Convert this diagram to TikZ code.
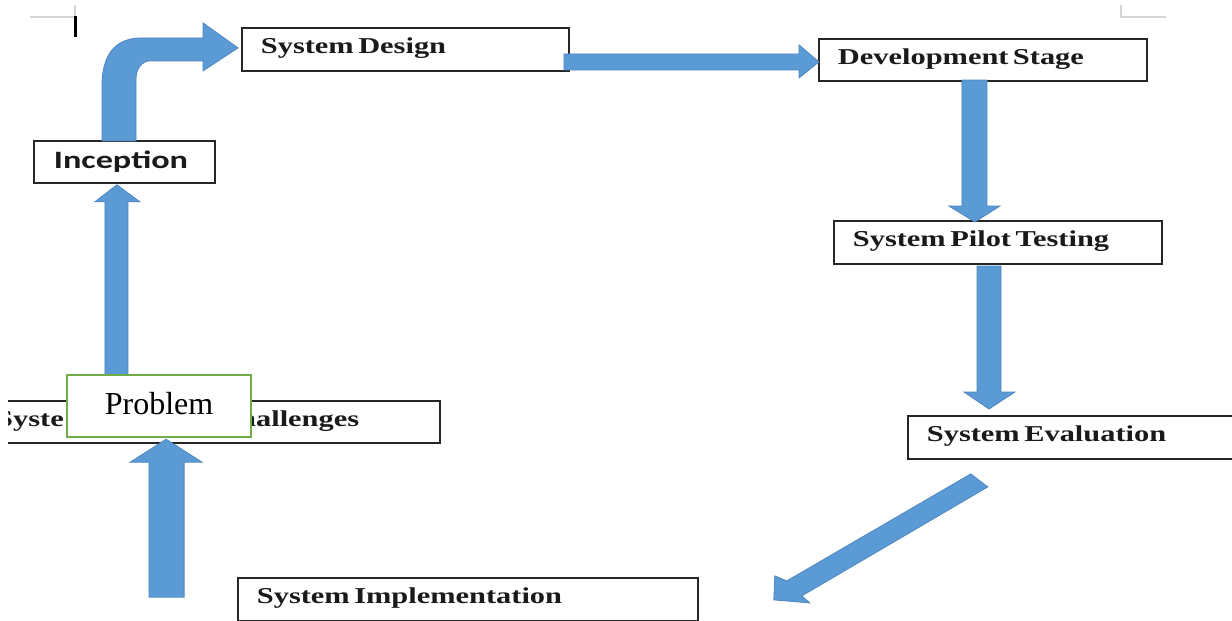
\documentclass[tikz,border=0pt]{standalone}
\usepackage{fontspec}
\usepackage{graphicx}
\setmainfont{Liberation Serif}
\newfontfamily\carlfont{Carlito}
\usetikzlibrary{calc}
\definecolor{arrowblue}{HTML}{5B9BD5}
\definecolor{arrowedge}{HTML}{4F86C0}
\definecolor{boxline}{HTML}{262626}
\definecolor{txt}{HTML}{1A1A1A}
\definecolor{probgreen}{HTML}{70AD47}
\definecolor{marks}{HTML}{D6D6D6}
\newcommand{\stagetxt}[1]{\scalebox{1.34}[1]{\fontsize{22.7}{24}\selectfont\bfseries #1}}
\newcommand{\incepttxt}[1]{\scalebox{1.37}[1]{\fontsize{25}{27}\selectfont\carlfont\bfseries #1}}
\tikzset{
  stage/.style={draw=boxline, line width=1.8pt, fill=white, rectangle, anchor=north west,
    inner xsep=19pt, inner ysep=0pt, minimum height=43pt, align=left,
    text height=16pt, text depth=7pt, text=txt},
  blk/.style={fill=arrowblue, draw=arrowedge, line width=0.8pt, line join=miter},
  markline/.style={draw=marks, line width=1.3pt},
}
\begin{document}
\begin{tikzpicture}[x=1pt, y=-1pt]
\clip (0,0) rectangle (1232,621);
\fill[white] (0,0) rectangle (1232,621);

% page corner marks and cursor
\draw[markline] (30,17) -- (75,17) -- (75,5);
\fill[black] (73.5,16) rectangle (77,37);
\draw[markline] (1121,5) -- (1121,17) -- (1166,17);

% stage boxes
\node[stage, minimum width=327pt, text width=289pt] (design) at (241,27) {\stagetxt{System Design}};
\node[stage, minimum width=328pt, minimum height=42pt, text width=290pt] (dev) at (818,38) {\stagetxt{Development Stage}};
\node[stage, minimum width=328pt, text width=290pt] (pilot) at (833,220) {\stagetxt{System Pilot Testing}};
\node[stage, minimum width=340pt, text width=302pt] (eval) at (907,415) {\stagetxt{System Evaluation}};
\node[stage, minimum width=460pt, text width=422pt] (impl) at (237,577) {\stagetxt{System Implementation}};
\node[stage, minimum width=181pt, minimum height=42pt, inner xsep=20pt, text width=141pt,
      text height=16pt, text depth=2pt] (incep) at (33,140) {\incepttxt{Inception}};

% challenges box (partly hidden, clipped on the left)
\begin{scope}
  \clip (8,380) rectangle (460,460);
  \node[stage, minimum width=459pt, minimum height=42pt] (chal) at (-20,400) {};
  \node[anchor=base west, inner sep=0pt, text=txt] (chalA) at (-4,426) {\stagetxt{Syste}};
  \node[anchor=base west, inner sep=0pt, text=txt] (chalB) at (239,426) {\stagetxt{hallenges}};
\end{scope}

% arrow: challenges -> inception (under the Problem box)
\begin{scope}[shift={($(incep.south)+(-7.5,1)$)}]
  \draw[blk] (0,0) -- (-22,17) -- (-12,17) -- (-12,197) -- (11,197) -- (11,17) -- (23,17) -- cycle;
\end{scope}

% Problem box
\node[draw=probgreen, line width=2.2pt, fill=white, rectangle, anchor=north west,
      minimum width=184pt, minimum height=62pt, inner sep=0pt,
      text height=21pt, text depth=5pt, text=black,
      font=\fontsize{32}{34}\selectfont] (prob) at (66,374) {Problem};

% arrow: implementation -> problem
\begin{scope}[shift={($(prob.south)+(7,1)$)}]
  \draw[blk] (0,0) -- (-36,23) -- (-17,23) -- (-17,158) -- (18,158) -- (18,23) -- (36,23) -- cycle;
\end{scope}

% bent arrow: inception -> system design
\begin{scope}[shift={($(design.west)+(-3,-1.5)$)}]
  \draw[blk] (0,0) -- (-35,23) -- (-35,13) -- (-88,13)
    .. controls (-96,13) and (-102,21) .. (-102,31)
    -- (-102,93) -- (-136,93) -- (-136,38)
    .. controls (-136,8) and (-124,-10) .. (-96,-10)
    -- (-35,-10) -- (-35,-25) -- cycle;
\end{scope}

% arrow: system design -> development stage
\begin{scope}[shift={($(dev.west)+(1,2)$)}]
  \draw[blk] (0,0) -- (-20,-17) -- (-20,-8) -- (-255,-8) -- (-255,8) -- (-20,8) -- (-20,16) -- cycle;
\end{scope}

% arrow: development stage -> pilot testing
\begin{scope}[shift={($(pilot.north)+(-23,2)$)}]
  \draw[blk] (0,0) -- (-26,-16) -- (-13,-16) -- (-13,-142) -- (12,-142) -- (12,-16) -- (25,-16) -- cycle;
\end{scope}

% arrow: pilot testing -> evaluation
\begin{scope}[shift={($(eval.north west)+(82,-6)$)}]
  \draw[blk] (0,0) -- (-25,-17) -- (-12,-17) -- (-12,-143) -- (12,-143) -- (12,-17) -- (26,-17) -- cycle;
\end{scope}

% diagonal arrow: evaluation -> implementation
\begin{scope}[shift={($(impl.east)+(75,0.5)$)}]
  \draw[blk] (0,0) -- (1,-24) -- (13,-19) -- (197,-126) -- (214,-113) -- (28,-4) -- (36,3) -- cycle;
\end{scope}
\end{tikzpicture}
\end{document}
